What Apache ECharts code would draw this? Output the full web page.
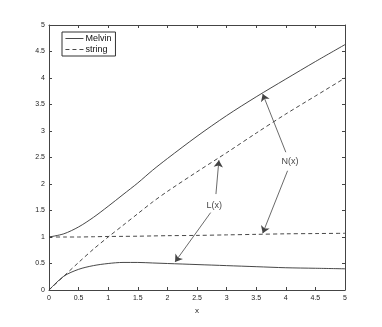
<!DOCTYPE html>
<html>
<head>
<meta charset="utf-8">
<script src="https://cdn.jsdelivr.net/npm/echarts@6/dist/echarts.min.js"></script>
<style>
  html, body { margin: 0; padding: 0; background: #fff; }
  #chart { width: 382px; height: 327px; }
</style>
</head>
<body>
<div id="chart"></div>
<script>
var xs = [0, 0.25, 0.5, 0.75, 1, 1.25, 1.5, 1.75, 2, 2.5, 3, 3.5, 4, 4.5, 5];
var melvinN = [1, 1.06, 1.19, 1.37, 1.58, 1.80, 2.02, 2.26, 2.48, 2.90, 3.29, 3.645, 3.98, 4.31, 4.63];
var melvinL = [0, 0.26, 0.39, 0.46, 0.50, 0.52, 0.52, 0.51, 0.50, 0.48, 0.46, 0.44, 0.42, 0.41, 0.40];
var stringN = [1, 1.0, 1.0, 1.005, 1.01, 1.012, 1.015, 1.02, 1.025, 1.03, 1.04, 1.05, 1.06, 1.065, 1.07];
var stringL = [0, 0.26, 0.52, 0.77, 1.0, 1.22, 1.44, 1.66, 1.86, 2.23, 2.59, 2.96, 3.32, 3.66, 4.0];

// annotation text positions and arrows, in data units
var labels = [[4.07, 2.42, 'N(x)'], [2.79, 1.60, 'L(x)']];
var arrows = [
    [[4.0, 2.60], [3.61, 3.70]],
    [[4.03, 2.25], [3.61, 1.07]],
    [[2.82, 1.81], [2.87, 2.45]],
    [[2.73, 1.46], [2.13, 0.53]]
];

var pairs = function(ys){
    return xs.map(function(x, i){ return [x, ys[i]]; });
};

var chart = echarts.init(document.getElementById('chart'));

var lineColor = '#333';
var fontFamily = 'Liberation Sans, Arial, sans-serif';
var tickFont = { fontSize: 7, color: '#222', fontFamily: fontFamily };

var axisCommon = {
    min: 0, max: 5,
    axisLine: { show: true, onZero: false, lineStyle: { color: '#444', width: 1 } },
    axisTick: { show: true, inside: true, length: 3, lineStyle: { color: '#444' } },
    splitLine: { show: false }
};

var xAxis = [
    Object.assign({}, axisCommon, {
        type: 'value', interval: 0.5, position: 'bottom',
        name: 'x', nameLocation: 'middle', nameGap: 17,
        nameTextStyle: { fontSize: 8, color: '#222', fontFamily: fontFamily },
        axisLabel: Object.assign({ margin: 5 }, tickFont)
    }),
    Object.assign({}, axisCommon, {
        type: 'value', interval: 0.5, position: 'top',
        axisLabel: { show: false }
    })
];

var yAxis = [
    Object.assign({}, axisCommon, {
        type: 'value', interval: 0.5, position: 'left',
        axisLabel: Object.assign({ margin: 4 }, tickFont)
    }),
    Object.assign({}, axisCommon, {
        type: 'value', interval: 0.5, position: 'right',
        axisLabel: { show: false }
    })
];

var curve = function(name, ys, dashed){
    return {
        name: name, type: 'line', data: pairs(ys),
        symbol: 'none', showSymbol: false, smooth: 0.3, silent: true,
        lineStyle: { color: lineColor, width: 0.9, type: dashed ? [4, 3] : 'solid' },
        itemStyle: { color: lineColor }
    };
};

var series = [
    curve('Melvin', melvinN, false),
    curve('Melvin', melvinL, false),
    curve('string', stringN, true),
    curve('string', stringL, true),
    {
        type: 'lines', coordinateSystem: 'cartesian2d', silent: true,
        symbol: ['none', 'arrow'], symbolSize: [0, 7],
        lineStyle: { color: '#444', width: 0.8, opacity: 1 },
        data: arrows.map(function(a){ return { coords: a }; })
    },
    {
        type: 'scatter', symbolSize: 0, silent: true,
        data: labels,
        label: {
            show: true, position: 'inside',
            formatter: function(p){ return p.value[2]; },
            fontSize: 9, color: '#111', fontFamily: fontFamily
        }
    }
];

var option = {
    animation: false,
    backgroundColor: '#fff',
    grid: { left: 49, top: 25, width: 296, height: 265, containLabel: false },
    legend: {
        data: ['Melvin', 'string'],
        orient: 'vertical', left: 62, top: 32,
        itemWidth: 18, itemHeight: 8, itemGap: 2,
        padding: [2, 4, 2, 3],
        borderColor: '#333', borderWidth: 1, borderRadius: 0,
        backgroundColor: '#fff',
        itemStyle: { opacity: 0 },
        lineStyle: { width: 0.9 },
        textStyle: { fontSize: 9, color: '#111', padding: [0, 0, 0, -3], fontFamily: fontFamily }
    },
    xAxis: xAxis,
    yAxis: yAxis,
    series: series
};

chart.setOption(option);
</script>
</body>
</html>
